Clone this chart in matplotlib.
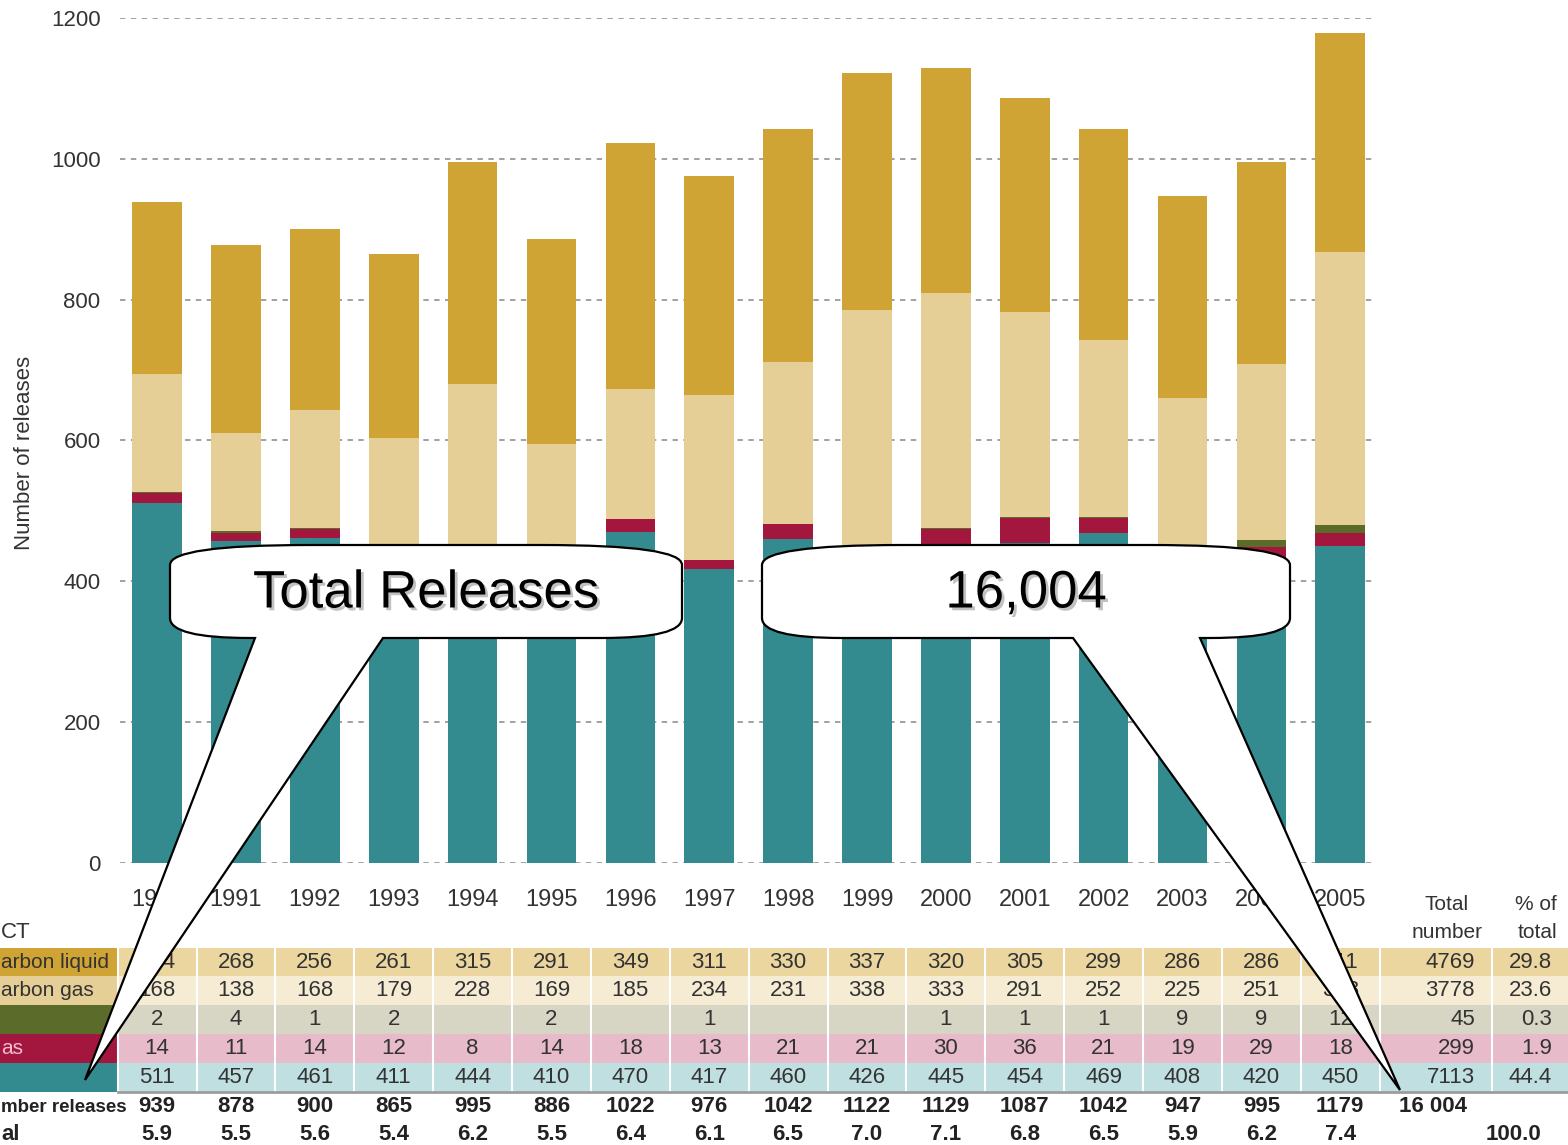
import numpy as np
import matplotlib
matplotlib.use("Agg")
import matplotlib.pyplot as plt
import matplotlib.transforms as mtransforms
import matplotlib.patheffects as pe
from matplotlib.path import Path
from matplotlib.patches import PathPatch, Rectangle

years = [str(y) for y in range(1990, 2006)]
hc_liquid = [244, 268, 256, 261, 315, 291, 349, 311, 330, 337, 320, 305, 299, 286, 286, 311]
hc_gas = [168, 138, 168, 179, 228, 169, 185, 234, 231, 338, 333, 291, 252, 225, 251, 388]
other = [2, 4, 1, 2, 0, 2, 0, 1, 0, 0, 1, 1, 1, 9, 9, 12]
non_hc_gas = [14, 11, 14, 12, 8, 14, 18, 13, 21, 21, 30, 36, 21, 19, 29, 18]
teal_series = [511, 457, 461, 411, 444, 410, 470, 417, 460, 426, 445, 454, 469, 408, 420, 450]
pct_of_year = [5.9, 5.5, 5.6, 5.4, 6.2, 5.5, 6.4, 6.1, 6.5, 7.0, 7.1, 6.8, 6.5, 5.9, 6.2, 7.4]
row_totals = [4769, 3778, 45, 299, 7113]
row_pct = [29.8, 23.6, 0.3, 1.9, 44.4]
grand_total = "16 004"

bar_cols = ["#CFA334", "#E6CF96", "#5A6B2A", "#A3173F", "#348B8F"]
cell_cols = ["#EBD6A0", "#F6ECD4", "#D7D5C3", "#E8BBCB", "#BFDFE0"]

narrow = ["Liberation Sans Narrow", "Liberation Sans", "DejaVu Sans"]
arial = ["Liberation Sans", "DejaVu Sans"]
txt = "#333333"

W, H = 1568, 1145
fig = plt.figure(figsize=(W / 100, H / 100), dpi=100)
fig.patch.set_facecolor("white")

# main bar axes (pixel box: x 120..1375, y 18..863)
ax = fig.add_axes([120 / W, 1 - 863 / H, (1375 - 120) / W, (863 - 18) / H])
x = np.arange(len(years))
stack = [teal_series, non_hc_gas, other, hc_gas, hc_liquid]
stack_cols = bar_cols[::-1]
bottom = np.zeros(len(years))
for vals, c in zip(stack, stack_cols):
    ax.bar(x, vals, width=0.63, bottom=bottom, color=c, zorder=3)
    bottom += np.array(vals)

ax.set_xlim(-0.47, 15.44)
ax.set_ylim(0, 1200)
ax.set_yticks(range(0, 1201, 200))
ax.set_xticks([])
for v in range(0, 1201, 200):
    ax.axhline(v, color="#9a9a9a", lw=1.3, ls=(0, (3, 3)), zorder=1)
ax.tick_params(axis="y", length=0, pad=14, labelsize=16, labelcolor=txt)
for lab in ax.get_yticklabels():
    lab.set_family(narrow)
for s in ax.spines.values():
    s.set_visible(False)

fig.text(25 / W, 1 - 453 / H, "Number of releases", rotation=90, ha="center",
         va="center", fontsize=16, color=txt, family=narrow)

# overlay axes in pixel coordinates for table + callouts
ov = fig.add_axes([0, 0, 1, 1], zorder=5)
ov.set_xlim(0, W)
ov.set_ylim(H, 0)
ov.axis("off")
ov.patch.set_alpha(0)
bt = mtransforms.blended_transform_factory(ax.transData, ov.transData)

# year header
for i, yr in enumerate(years):
    ov.text(i, 900, yr, transform=bt, ha="center", va="center", fontsize=17,
            color=txt, family=narrow)
ov.text(1447, 905, "Total", ha="center", va="center", fontsize=15, color=txt, family=narrow)
ov.text(1447, 933, "number", ha="center", va="center", fontsize=15, color=txt, family=narrow)
ov.text(1557, 905, "% of", ha="right", va="center", fontsize=15, color=txt, family=narrow)
ov.text(1557, 933, "total", ha="right", va="center", fontsize=15, color=txt, family=narrow)
# row labels are cropped at the left edge of the original picture
ov.text(1, 932, "CT", ha="left", va="center", fontsize=16, color=txt, family=narrow)

# table rows
rows = [hc_liquid, hc_gas, other, non_hc_gas, teal_series]
row_top = [948, 976, 1005, 1034, 1063]
row_h = 29
for r, vals in enumerate(rows):
    y0 = row_top[r]
    ov.add_patch(Rectangle((0, y0), 118, row_h, color=bar_cols[r], lw=0))
    ov.add_patch(Rectangle((118, y0), W - 118, row_h, color=cell_cols[r], lw=0))
    yc = y0 + row_h / 2
    for i, v in enumerate(vals):
        if v:
            ov.text(i, yc, str(v), transform=bt, ha="center", va="center",
                    fontsize=16, color=txt, family=narrow)
    ov.text(1475, yc, str(row_totals[r]), ha="right", va="center", fontsize=16,
            color=txt, family=narrow)
    ov.text(1552, yc, f"{row_pct[r]:.1f}", ha="right", va="center", fontsize=16,
            color=txt, family=narrow)

# column separators
for i in range(len(years) + 1):
    ov.plot([i - 0.5, i - 0.5], [948, 1092], transform=bt, color="white", lw=1.5)
ov.plot([1492, 1492], [948, 1092], color="white", lw=1.5)
ov.plot([118, W], [1092, 1092], color="#9c9c9c", lw=2)

row_names = [("arbon liquid", txt), ("arbon gas", txt), ("as", "#F2BCD2")]
for (name, col), yi in zip(row_names, [0, 1, 3]):
    ov.text(1, row_top[yi] + row_h / 2, name, ha="left", va="center",
            fontsize=15, color=col, family=narrow)

totals = np.sum(rows, axis=0)
ov.text(1, 1107, "mber releases", ha="left", va="center", fontsize=13.5,
        color="#222222", family=narrow, weight="bold")
ov.text(1, 1135, "al", ha="left", va="center", fontsize=16,
        color="#222222", family=narrow, weight="bold")
for i in range(len(years)):
    ov.text(i, 1107, str(totals[i]), transform=bt, ha="center", va="center",
            fontsize=16, color="#222222", family=narrow, weight="bold")
    ov.text(i, 1135, f"{pct_of_year[i]:.1f}", transform=bt, ha="center", va="center",
            fontsize=16, color="#222222", family=narrow, weight="bold")
ov.text(1467, 1107, grand_total, ha="right", va="center", fontsize=16,
        color="#222222", family=narrow, weight="bold")
ov.text(1541, 1135, "100.0", ha="right", va="center", fontsize=16,
        color="#222222", family=narrow, weight="bold")


def callout(x0, x1, y0, y1, ta, tb, tip, label):
    rxt, rxb, ry = 140, 80, 20
    verts = [(x0, y0 + ry), (x0, y1 - ry), (x0, y1), (x0 + rxb, y1),
             (ta, y1), tip, (tb, y1), (x1 - rxb, y1),
             (x1, y1), (x1, y1 - ry), (x1, y0 + ry),
             (x1, y0), (x1 - rxt, y0), (x0 + rxt, y0),
             (x0, y0), (x0, y0 + ry), (x0, y0 + ry)]
    codes = [Path.MOVETO, Path.LINETO, Path.CURVE3, Path.CURVE3,
             Path.LINETO, Path.LINETO, Path.LINETO, Path.LINETO,
             Path.CURVE3, Path.CURVE3, Path.LINETO,
             Path.CURVE3, Path.CURVE3, Path.LINETO,
             Path.CURVE3, Path.CURVE3, Path.CLOSEPOLY]
    ov.add_patch(PathPatch(Path(verts, codes), facecolor="white",
                           edgecolor="black", lw=1.6, zorder=10))
    t = ov.text((x0 + x1) / 2, (y0 + y1) / 2 + 2, label, ha="center", va="center",
                fontsize=38, color="black", family=arial, zorder=11)
    t.set_path_effects([pe.withSimplePatchShadow(offset=(2, -2),
                                                 shadow_rgbFace="#999999", alpha=0.6)])


callout(170, 682, 545, 638, 255, 383, (85, 1080), "Total Releases")
callout(762, 1290, 545, 638, 1073, 1200, (1400, 1090), "16,004")

fig.savefig("out.png", dpi=100, facecolor="white")
